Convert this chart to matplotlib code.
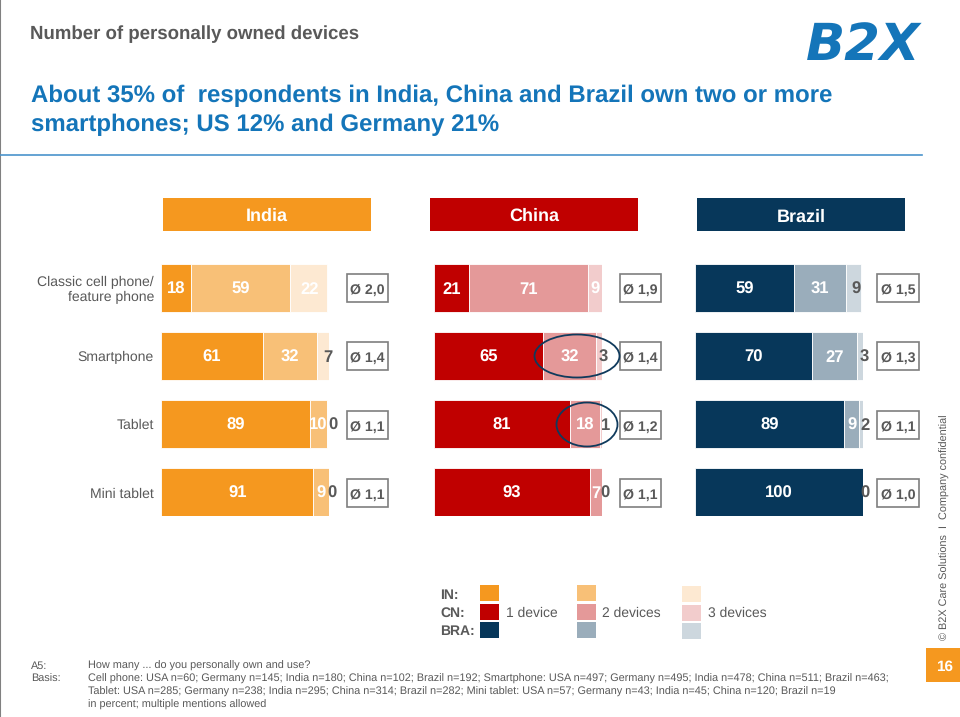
import matplotlib
matplotlib.use("Agg")
import matplotlib.pyplot as plt
from matplotlib.patches import Rectangle, Ellipse

plt.rcParams['font.family'] = ['Liberation Sans', 'DejaVu Sans']
plt.rcParams['text.hinting'] = 'no_hinting'

W, H = 960, 717
GREY = '#595959'
BLUE = '#1475b9'

devices = ['Classic cell phone/\nfeature phone', 'Smartphone', 'Tablet', 'Mini tablet']

india = [[18, 59, 22], [61, 32, 7], [89, 10, 0], [91, 9, 0]]
china = [[21, 71, 9], [65, 32, 3], [81, 18, 1], [93, 7, 0]]
brazil = [[59, 31, 9], [70, 27, 3], [89, 9, 2], [100, 0, 0]]

india_avg = ['Ø 2,0', 'Ø 1,4', 'Ø 1,1', 'Ø 1,1']
china_avg = ['Ø 1,9', 'Ø 1,4', 'Ø 1,2', 'Ø 1,1']
brazil_avg = ['Ø 1,5', 'Ø 1,3', 'Ø 1,1', 'Ø 1,0']

india_colors = ['#f5981f', '#f8c077', '#fde9d2']
china_colors = ['#c00000', '#e49999', '#f2cccc']
brazil_colors = ['#07375a', '#9aadbb', '#cdd7de']

# where the last number of each row sits, in percent along the bar
india_last_x = [89, 99.5, 102.5, 102]
china_last_x = [96.4, 101, 102.4, 101.8]
brazil_last_x = [96, 101.3, 101.3, 101.3]
india_last_col = ['white', GREY, GREY, GREY]
china_last_col = ['white', GREY, GREY, GREY]
brazil_last_col = [GREY, GREY, GREY, GREY]

fig = plt.figure(figsize=(W / 100, H / 100), dpi=100)

# page furniture is placed in pixels on a full size axes
page = fig.add_axes([0, 0, 1, 1], zorder=5)
page.set_xlim(0, W)
page.set_ylim(H, 0)
page.axis('off')
page.patch.set_alpha(0)


def draw_panel(left, rows, colors, last_x, last_col, avgs, box_left):
    ax = fig.add_axes([left / W, 1 - 516 / H, 167.5 / W, 252.5 / H])
    ax.set_xlim(0, 100)
    ax.set_ylim(3.353, -0.353)
    ax.axis('off')
    ys = range(len(rows))
    starts = [0] * len(rows)
    for s in range(3):
        vals = [r[s] for r in rows]
        ax.barh(ys, vals, left=starts, height=0.706, color=colors[s], edgecolor='white', linewidth=0.6)
        for y, v, st in zip(ys, vals, starts):
            if s == 2:
                ax.text(last_x[y], y, str(v), color=last_col[y], fontsize=12, fontweight='bold',
                        ha='center', va='center_baseline', clip_on=False)
            elif v > 0:
                ax.text(st + v / 2, y, str(v), color='white', fontsize=12, fontweight='bold',
                        ha='center', va='center_baseline')
        starts = [a + b for a, b in zip(starts, vals)]
    for cy, txt in zip([287.5, 356, 424.5, 493], avgs):
        page.add_patch(Rectangle((box_left, cy - 14), 41.5, 28, facecolor='white', edgecolor='#7f7f7f', linewidth=1.2))
        page.text(box_left + 21, cy + 1, txt, color=GREY, fontsize=10.2, fontweight='bold', ha='center', va='center_baseline')


draw_panel(161, india, india_colors, india_last_x, india_last_col, india_avg, 346.5)
draw_panel(434, china, china_colors, china_last_x, china_last_col, china_avg, 619.5)
draw_panel(695, brazil, brazil_colors, brazil_last_x, brazil_last_col, brazil_avg, 877)

# row labels
for cy, name in zip([290, 357.5, 425.5, 494], devices):
    page.text(154, cy, name, color=GREY, fontsize=10.1, ha='right', va='center', linespacing=1.25)

# header
page.plot([0, 0], [0, H], color='#808080', lw=1.5)
page.text(30, 34, 'Number of personally owned devices', color=GREY, fontsize=13.4, fontweight='bold', va='center')
page.text(806, 46, 'B2X', color=BLUE, fontsize=37, fontweight='bold', fontstyle='italic',
          family='DejaVu Sans', va='center', ha='left')
page.text(31, 96, 'About 35% of  respondents in India, China and Brazil own two or more', color=BLUE,
          fontsize=17.25, fontweight='bold', va='center')
page.text(31, 125, 'smartphones; US 12% and Germany 21%', color=BLUE, fontsize=17.25, fontweight='bold', va='center')
page.plot([0, 922], [154.5, 154.5], color='#4a94cc', lw=1.2)

# country headers
for x0, name, col, cy in zip([163, 430, 697], ['India', 'China', 'Brazil'],
                             [india_colors[0], china_colors[0], brazil_colors[0]], [214, 214, 215.5]):
    page.add_patch(Rectangle((x0, 198), 208, 33, facecolor=col, edgecolor='none'))
    page.text(x0 + 104, cy, name, color='white', fontsize=13, fontweight='bold', ha='center', va='center_baseline')

# rings around the two device answers in China
page.add_patch(Ellipse((577, 356), 85, 43, facecolor='none', edgecolor='#0f3a5c', lw=1.3))
page.add_patch(Ellipse((587, 424.5), 61, 44, facecolor='none', edgecolor='#0f3a5c', lw=1.3))

# legend
for cy, name in zip([594, 612, 630], ['IN:', 'CN:', 'BRA:']):
    page.text(440, cy, name, color=GREY, fontsize=10, fontweight='bold', va='center_baseline')
for x0, colset, dy in zip([480, 577, 682],
                          zip(india_colors, china_colors, brazil_colors), [0, 0, 1]):
    for y0, c in zip([585, 604, 622], colset):
        page.add_patch(Rectangle((x0, y0 + dy), 19, 16, facecolor=c, edgecolor='none'))
for x0, name in zip([506, 602, 708], ['1 device', '2 devices', '3 devices']):
    page.text(x0, 612, name, color=GREY, fontsize=10, va='center_baseline')

# footnotes
FOOT = 7.8
page.text(31, 666, 'A5:', color=GREY, fontsize=FOOT, va='center')
page.text(31, 679, 'Basis:', color=GREY, fontsize=FOOT, va='center')
page.text(88, 666, 'How many ... do you personally own and use?', color=GREY, fontsize=FOOT, va='center')
page.text(88, 679, 'Cell phone: USA n=60; Germany n=145; India n=180; China n=102; Brazil n=192; Smartphone: USA n=497; '
          'Germany n=495; India n=478; China n=511; Brazil n=463;', color=GREY, fontsize=FOOT, va='center')
page.text(88, 692, 'Tablet: USA n=285; Germany n=238; India n=295; China n=314; Brazil n=282; Mini tablet: USA n=57; '
          'Germany n=43; India n=45; China n=120; Brazil n=19', color=GREY, fontsize=FOOT, va='center')
page.text(88, 705, 'in percent; multiple mentions allowed', color=GREY, fontsize=FOOT, va='center')

# side note and page number
page.text(945, 527, '© B2X Care Solutions  I  Company confidential', color=GREY, fontsize=7.8,
          rotation=90, ha='center', va='center')
page.add_patch(Rectangle((926, 648), 34, 34, facecolor=india_colors[0], edgecolor='none'))
page.text(945, 665.5, '16', color='white', fontsize=11, fontweight='bold', ha='center', va='center_baseline')

fig.savefig('out.png', dpi=100)
